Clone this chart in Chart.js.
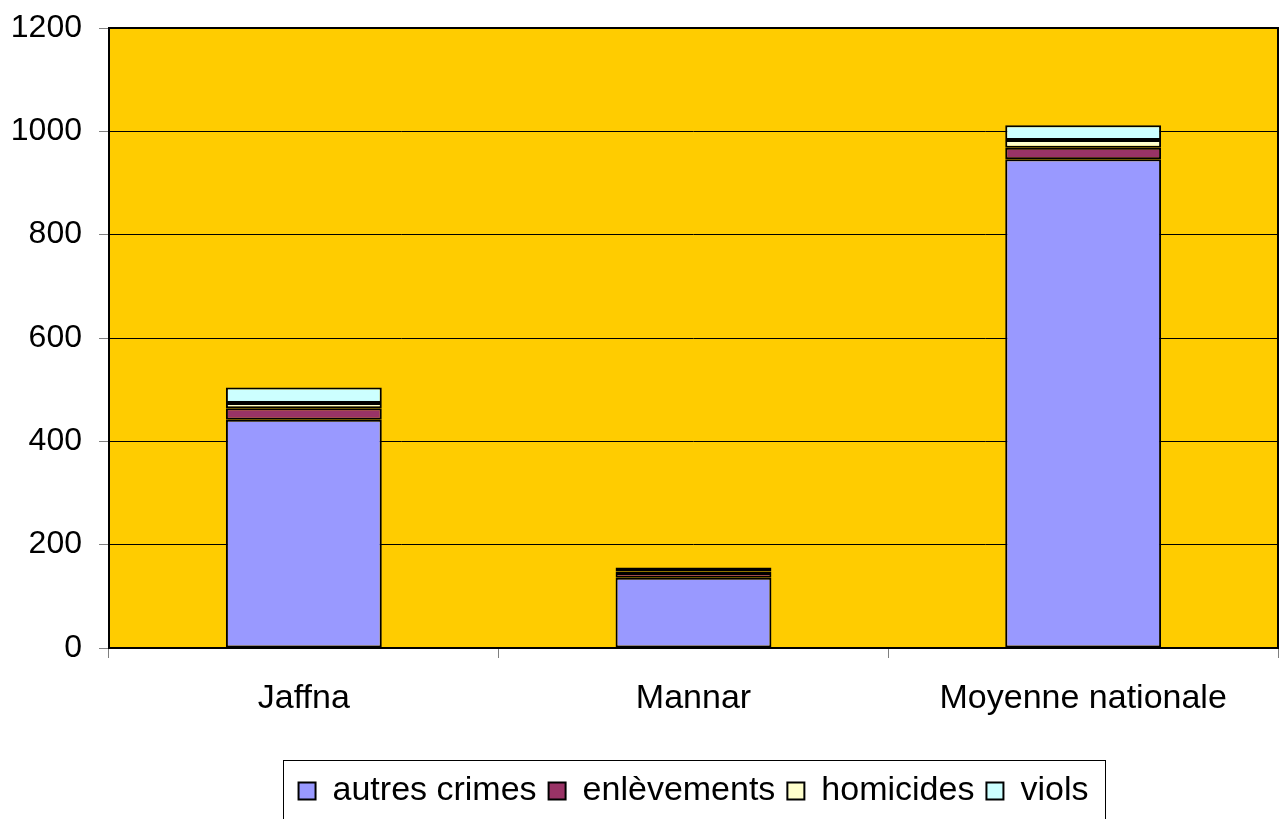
<!DOCTYPE html>
<html>
<head>
    <title>Crimes</title>
    <script src="https://cdn.jsdelivr.net/npm/chart.js@4.4.0/dist/chart.umd.min.js"></script>
    <style>
        body {
            margin: 0;
            background: #ffffff;
            font-family: "Liberation Sans", Arial, sans-serif;
        }

        #wrap {
            width: 1282px;
            height: 819px;
        }
    </style>
</head>
<body>
    <div id="wrap">
        <canvas id="crimeChart"></canvas>
    </div>

    <script>
        const categories = ['Jaffna', 'Mannar', 'Moyenne nationale'];
        const autresCrimes = [442, 136, 946];
        const enlevements = [22, 9, 22];
        const homicides = [10, 3, 15];
        const viols = [30, 8, 29];

        // plot background, border, legend frame
        const framePlugin = {
            id: 'frame',
            afterLayout(chart) {
                // centre the legend under the plot area, not the canvas
                const a = chart.chartArea;
                const lg = chart.legend;
                const dx = (a.left + a.right) / 2 - (lg.left + lg.right) / 2;
                lg.left += dx;
                lg.right += dx;
            },
            beforeDraw(chart) {
                const a = chart.chartArea;
                const ctx = chart.ctx;
                ctx.save();
                ctx.fillStyle = '#FFCC00';
                ctx.fillRect(a.left, a.top, a.right - a.left, a.bottom - a.top);
                ctx.restore();
            },
            afterDraw(chart) {
                const a = chart.chartArea;
                const ctx = chart.ctx;
                ctx.save();
                ctx.strokeStyle = '#000000';
                ctx.lineWidth = 2;
                ctx.strokeRect(a.left, a.top, a.right - a.left, a.bottom - a.top);
                ctx.lineWidth = 1;
                const w = 822;
                const x0 = Math.round((a.left + a.right) / 2 - w / 2) + 0.5;
                ctx.strokeRect(x0, 760.5, w, 60);
                ctx.restore();
            }
        };

        const ctx = document.getElementById('crimeChart').getContext('2d');

        new Chart(ctx, {
            type: 'bar',
            data: {
                labels: categories,
                datasets: [{
                    label: 'autres crimes',
                    data: autresCrimes,
                    backgroundColor: '#9999FF'
                }, {
                    label: 'enlèvements',
                    data: enlevements,
                    backgroundColor: '#993366'
                }, {
                    label: 'homicides',
                    data: homicides,
                    backgroundColor: '#FFFFCC'
                }, {
                    label: 'viols',
                    data: viols,
                    backgroundColor: '#CCFFFF'
                }]
            },
            options: {
                responsive: true,
                maintainAspectRatio: false,
                animation: false,
                datasets: {
                    bar: {
                        borderColor: '#000000',
                        borderWidth: 2,
                        borderSkipped: false,
                        categoryPercentage: 1,
                        barPercentage: 0.4
                    }
                },
                layout: {
                    padding: { left: 0, right: 4, top: 28, bottom: 1 }
                },
                scales: {
                    x: {
                        stacked: true,
                        afterFit(scale) { scale.height = 114; },
                        grid: {
                            offset: true,
                            drawOnChartArea: false,
                            color: '#808080',
                            tickLength: 10
                        },
                        border: { display: false },
                        ticks: {
                            color: '#000000',
                            padding: 20,
                            font: { family: 'Liberation Sans', size: 34 }
                        }
                    },
                    y: {
                        stacked: true,
                        min: 0,
                        max: 1200,
                        afterFit(scale) {
                            scale.width = 109;
                            scale.paddingTop = 0;
                            scale.paddingBottom = 0;
                        },
                        grid: {
                            color: '#000000',
                            tickColor: '#808080',
                            tickLength: 10
                        },
                        border: { display: false },
                        ticks: {
                            stepSize: 200,
                            color: '#000000',
                            padding: 17,
                            callback: (v) => String(v),
                            font: { family: 'Liberation Sans', size: 32 }
                        }
                    }
                },
                plugins: {
                    legend: {
                        position: 'bottom',
                        labels: {
                            color: '#000000',
                            boxWidth: 17,
                            boxHeight: 17,
                            padding: 12,
                            font: { family: 'Liberation Sans', size: 34 }
                        }
                    },
                    tooltip: { enabled: false }
                }
            },
            plugins: [framePlugin]
        });
    </script>
</body>
</html>
